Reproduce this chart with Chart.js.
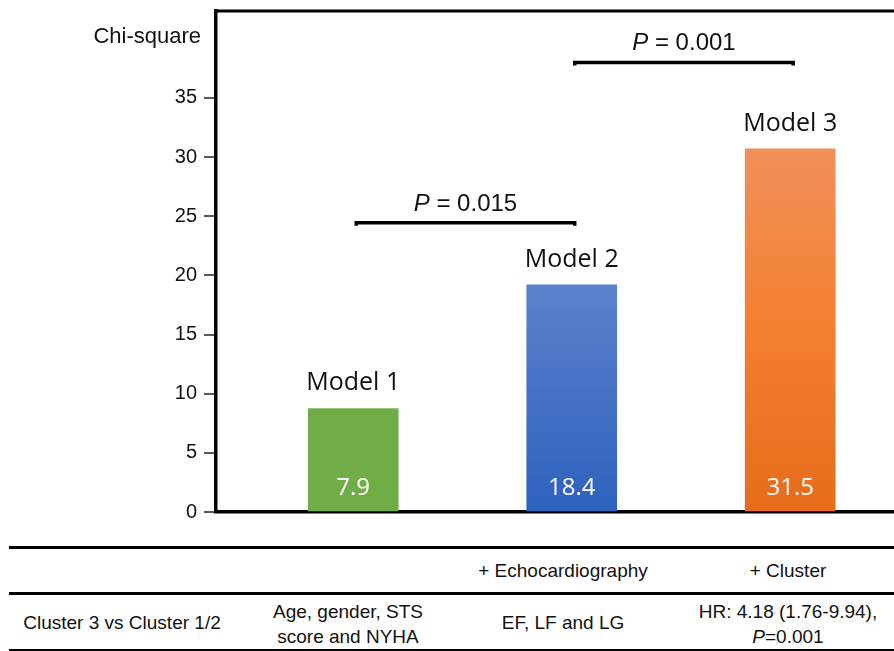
<!DOCTYPE html>
<html>
<head>
<meta charset="utf-8">
<script src="https://cdn.jsdelivr.net/npm/chart.js@4/dist/chart.umd.min.js"></script>
<style>
  body { margin: 0; background: #fff; width: 894px; height: 651px; overflow: hidden; position: relative; }
  #wrap { position: absolute; left: 0; top: 0; width: 894px; height: 540px; }
  .rule { position: absolute; left: 9px; right: 0; background: #000; }
  .cell { position: absolute; width: 260px; text-align: center; font-family: Arial, "Liberation Sans", sans-serif;
          font-size: 19px; line-height: 25px; color: #111; white-space: nowrap; }
</style>
</head>
<body>
<div id="wrap"><canvas id="chiChart" width="894" height="540"></canvas></div>

<div class="rule" style="top:545.5px;height:3.5px"></div>
<div class="rule" style="top:591.5px;height:3px"></div>
<div class="rule" style="top:648.5px;height:3px"></div>

<div class="cell" style="left:433px;top:558px">+ Echocardiography</div>
<div class="cell" style="left:658px;top:558px">+ Cluster</div>
<div class="cell" style="left:-8px;top:610px">Cluster 3 vs Cluster 1/2</div>
<div class="cell" style="left:218px;top:599px">Age, gender, STS<br>score and NYHA</div>
<div class="cell" style="left:433px;top:610px">EF, LF and LG</div>
<div class="cell" style="left:658px;top:599px">HR: 4.18 (1.76-9.94),<br><i>P</i>=0.001</div>

<script>
// data
const models = ["Model 1", "Model 2", "Model 3"];
const barHeights = [8.75, 19.2, 30.7];          // drawn bar heights
const valueLabels = ["7.9", "18.4", "31.5"];     // numbers printed in the bars
const yTicks = [0, 5, 10, 15, 20, 25, 30, 35];
const brackets = [
    { from: 1, to: 2, level: 24.45, p: "0.015" },
    { from: 2, to: 3, level: 38.0, p: "0.001" }
];

// bar colours, top -> middle -> bottom
const topColors = ["#70AD47", "#5B83CC", "#F0905A"];
const midColors = ["#70AD47", "#4571C5", "#F47F2F"];
const botColors = ["#70AD47", "#2E62BF", "#E56D1C"];

const LABEL_FONT = '"Open Sans", "Noto Sans", sans-serif';
const AXIS_FONT = 'Arial, "Liberation Sans", sans-serif';

function barFill(c) {
    const i = c.dataIndex;
    if (i === undefined) return botColors[0];
    const chart = c.chart;
    if (!chart.chartArea || !chart.scales.y) return midColors[i];
    const y = chart.scales.y;
    const g = chart.ctx.createLinearGradient(0, y.getPixelForValue(barHeights[i]), 0, y.getPixelForValue(0));
    g.addColorStop(0, topColors[i]);
    g.addColorStop(0.5, midColors[i]);
    g.addColorStop(1, botColors[i]);
    return g;
}

const extras = {
    id: "extras",
    afterDatasetsDraw(chart) {
        const { ctx, chartArea, scales } = chart;
        const x = scales.x, y = scales.y;
        ctx.save();

        // top frame line
        ctx.strokeStyle = "#000";
        ctx.lineWidth = 3;
        ctx.beginPath();
        ctx.moveTo(chartArea.left - 1.5, chartArea.top);
        ctx.lineTo(chartArea.right, chartArea.top);
        ctx.stroke();

        // axis title
        ctx.fillStyle = "#111";
        ctx.font = "22px " + AXIS_FONT;
        ctx.textAlign = "right";
        ctx.textBaseline = "alphabetic";
        ctx.fillText("Chi-square", chartArea.left - 15, 43);

        // model names and values
        const meta = chart.getDatasetMeta(0);
        ctx.textAlign = "center";
        meta.data.forEach((bar, i) => {
            ctx.fillStyle = "#111";
            ctx.font = "25px " + LABEL_FONT;
            ctx.fillText(models[i], bar.x, bar.y - 18);
            ctx.fillStyle = "#fff";
            ctx.font = "24px " + LABEL_FONT;
            ctx.fillText(valueLabels[i], bar.x, y.getPixelForValue(0) - 17);
        });

        // significance brackets
        brackets.forEach(b => {
            const x1 = x.getPixelForValue(b.from) + 3;
            const x2 = x.getPixelForValue(b.to) + 3;
            const yy = y.getPixelForValue(b.level);
            ctx.strokeStyle = "#000";
            ctx.lineWidth = 3.5;
            ctx.beginPath();
            ctx.moveTo(x1, yy + 3);
            ctx.lineTo(x1, yy);
            ctx.lineTo(x2, yy);
            ctx.lineTo(x2, yy + 3);
            ctx.stroke();

            ctx.fillStyle = "#111";
            ctx.font = "italic 24px " + AXIS_FONT;
            const wP = ctx.measureText("P").width;
            ctx.font = "24px " + AXIS_FONT;
            const rest = " = " + b.p;
            const wR = ctx.measureText(rest).width;
            const start = (x1 + x2) / 2 - (wP + wR) / 2;
            ctx.textAlign = "left";
            ctx.font = "italic 24px " + AXIS_FONT;
            ctx.fillText("P", start, yy - 12);
            ctx.font = "24px " + AXIS_FONT;
            ctx.fillText(rest, start + wP, yy - 12);
            ctx.textAlign = "center";
        });
        ctx.restore();
    }
};

new Chart(document.getElementById("chiChart"), {
    type: "bar",
    data: {
        datasets: [{
            data: barHeights.map((v, i) => ({ x: i + 1, y: v })),
            backgroundColor: barFill,
            borderWidth: 0,
            barThickness: 90
        }]
    },
    options: {
        responsive: false,
        animation: false,
        layout: { padding: { top: 11, bottom: 28, left: 0, right: 0 } },
        plugins: { legend: { display: false }, tooltip: { enabled: false } },
        scales: {
            x: {
                type: "linear",
                min: 0.372,
                max: 3.475,
                offset: false,
                ticks: { display: false },
                grid: { display: false },
                border: { display: true, color: "#000", width: 3.5 },
                afterFit(scale) { scale.height = 0; }
            },
            y: {
                min: 0,
                max: 42.35,
                ticks: {
                    stepSize: 5,
                    padding: 7,
                    color: "#111",
                    font: { family: AXIS_FONT, size: 20 }
                },
                afterBuildTicks(scale) {
                    scale.ticks = yTicks.map(v => ({ value: v }));
                },
                grid: {
                    drawOnChartArea: false,
                    drawTicks: true,
                    tickLength: 12,
                    color: "#595959",
                    lineWidth: 2
                },
                border: { display: true, color: "#000", width: 3.5 },
                afterFit(scale) {
                    scale.width = 216;
                    scale.paddingTop = 0;
                    scale.paddingBottom = 0;
                }
            }
        }
    },
    plugins: [extras]
});
</script>
</body>
</html>
